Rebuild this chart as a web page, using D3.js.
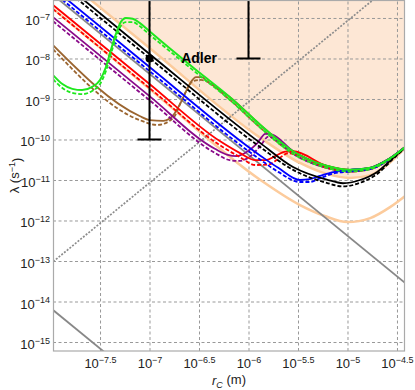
<!DOCTYPE html>
<html>
<head>
<meta charset="utf-8">
<script src="https://cdn.jsdelivr.net/npm/d3@7"></script>
<style>
body { margin: 0; background: #fff; }
svg { display: block; font-family: "Liberation Sans", Arial, sans-serif; }
</style>
</head>
<body>
<script>
// all values are log10 exponents: [log10 rc, log10 lambda]
var xTicks = [-7.5, -7, -6.5, -6, -5.5, -5, -4.5];
var yTicks = [-7, -8, -9, -10, -11, -12, -13, -14, -15];
var xDomain = [-7.975, -4.419];
var yDomain = [-15.222, -6.556];

var greenSolid = [[-7.975,-8.41],[-7.88,-8.63],[-7.78,-8.75],[-7.68,-8.78],[-7.58,-8.70],[-7.50,-8.53],[-7.44,-8.21],[-7.39,-7.79],[-7.34,-7.40],[-7.29,-7.10],[-7.24,-7.00],[-7.17,-7.02],[-7.10,-7.12],[-7.00,-7.33],[-6.86,-7.62],[-6.49,-8.36],[-6.19,-8.95],[-5.88,-9.64],[-5.55,-10.29],[-5.21,-10.65],[-4.975,-10.75],[-4.77,-10.70],[-4.60,-10.51],[-4.42,-10.19]];
var greenDashed = [[-7.975,-8.51],[-7.88,-8.73],[-7.78,-8.85],[-7.68,-8.88],[-7.58,-8.80],[-7.50,-8.63],[-7.44,-8.31],[-7.39,-7.89],[-7.34,-7.50],[-7.29,-7.20],[-7.24,-7.10],[-7.17,-7.10],[-7.10,-7.20],[-7.00,-7.41],[-6.86,-7.69],[-6.49,-8.43],[-6.19,-9.02],[-5.88,-9.71],[-5.55,-10.35],[-5.21,-10.70],[-4.975,-10.79],[-4.77,-10.73],[-4.60,-10.53],[-4.42,-10.19]];

var peachUpper = [[-7.975,-5.79],[-7.0,-7.74],[-5.88,-9.96],[-5.48,-10.58],[-5.21,-10.85],[-4.975,-10.95],[-4.77,-10.88],[-4.60,-10.63],[-4.42,-10.22]];
var peachLower = [[-7.975,-6.77],[-7.0,-8.75],[-5.88,-11.0],[-5.48,-11.62],[-5.23,-11.89],[-5.0,-12.04],[-4.77,-11.94],[-4.57,-11.67],[-4.42,-11.40]];

var blackSolid = [[-7.975,-5.93],[-7.0,-7.89],[-5.88,-10.09],[-5.55,-10.68],[-5.21,-10.99],[-5.045,-11.08],[-4.874,-11.0],[-4.70,-10.80],[-4.54,-10.46],[-4.42,-10.21]];
var blackDashed = [[-7.975,-6.04],[-7.0,-7.99],[-5.88,-10.19],[-5.55,-10.75],[-5.21,-11.07],[-5.045,-11.16],[-4.874,-11.07],[-4.70,-10.85],[-4.54,-10.48],[-4.42,-10.21]];

var blueSolid = [[-7.975,-6.26],[-7.0,-8.21],[-5.88,-10.40],[-5.70,-10.70],[-5.48,-11.0],[-5.38,-10.98],[-5.28,-10.90],[-5.13,-10.80],[-4.975,-10.75],[-4.77,-10.70],[-4.60,-10.51],[-4.42,-10.19]];
var blueDashed = [[-7.975,-6.36],[-7.0,-8.31],[-5.88,-10.50],[-5.70,-10.80],[-5.48,-11.05],[-5.38,-11.05],[-5.28,-10.96],[-5.13,-10.83],[-4.975,-10.79],[-4.77,-10.73],[-4.60,-10.53],[-4.42,-10.19]];

var redSolid = [[-7.975,-6.68],[-7.0,-8.63],[-6.29,-10.04],[-6.09,-10.33],[-5.93,-10.51],[-5.83,-10.51],[-5.73,-10.41],[-5.63,-10.30],[-5.55,-10.29],[-5.21,-10.65],[-4.975,-10.75],[-4.77,-10.70],[-4.60,-10.51],[-4.42,-10.19]];
var redDashed = [[-7.975,-6.78],[-7.0,-8.73],[-6.29,-10.14],[-6.09,-10.43],[-5.93,-10.63],[-5.80,-10.62],[-5.70,-10.48],[-5.60,-10.34],[-5.52,-10.37],[-5.21,-10.70],[-4.975,-10.79],[-4.77,-10.73],[-4.60,-10.53],[-4.42,-10.19]];

var purpleSolid = [[-7.975,-6.98],[-7.0,-8.93],[-6.34,-10.23],[-6.21,-10.38],[-6.12,-10.41],[-6.02,-10.31],[-5.91,-10.09],[-5.83,-9.86],[-5.76,-9.88],[-5.55,-10.29],[-5.21,-10.65],[-4.975,-10.75],[-4.77,-10.70],[-4.60,-10.51],[-4.42,-10.19]];
var purpleDashed = [[-7.975,-7.08],[-7.0,-9.03],[-6.34,-10.33],[-6.19,-10.51],[-6.09,-10.53],[-5.99,-10.43],[-5.88,-10.16],[-5.80,-9.93],[-5.72,-10.02],[-5.55,-10.35],[-5.21,-10.70],[-4.975,-10.79],[-4.77,-10.73],[-4.60,-10.53],[-4.42,-10.19]];

var brownSolid = [[-7.975,-7.67],[-7.10,-9.42],[-7.0,-9.52],[-6.86,-9.54],[-6.76,-9.40],[-6.67,-9.02],[-6.59,-8.61],[-6.53,-8.46],[-6.47,-8.46],[-6.42,-8.56],[-6.19,-8.95],[-5.88,-9.64],[-5.55,-10.29],[-5.21,-10.65],[-4.975,-10.75],[-4.77,-10.70],[-4.60,-10.51],[-4.42,-10.19]];
var brownDashed = [[-7.975,-7.77],[-7.10,-9.52],[-6.92,-9.64],[-6.76,-9.47],[-6.66,-8.95],[-6.56,-8.56],[-6.48,-8.53],[-6.19,-9.02],[-5.88,-9.71],[-5.55,-10.35],[-5.21,-10.70],[-4.975,-10.79],[-4.77,-10.73],[-4.60,-10.53],[-4.42,-10.19]];

var grayUpper = [[-8.0,-6.38],[-4.4,-13.58]];
var grayLower = [[-8.0,-14.16],[-7.3,-15.56]];
var grayDotted = [[-8.0,-13.07],[-4.6,-6.27]];

// Adler error bars: rc, central, low, high
var adlerX = [-7, -6];
var adlerMid = [-8, null];
var adlerLow = [-10, -8];
var adlerHigh = [-6, -6];

var padL = 53, padR = 405, padT = 0, padB = 351;

var svg = d3.select('body').append('svg')
    .attr('width', 415)
    .attr('height', 390);

var x = d3.scaleLog().domain(xDomain.map(function(e){ return Math.pow(10, e); })).range([padL, padR]);
var y = d3.scaleLog().domain(yDomain.map(function(e){ return Math.pow(10, e); })).range([padB, padT]);

function px(d) { return x(Math.pow(10, d[0])); }
function py(d) { return y(Math.pow(10, d[1])); }

svg.append('clipPath').attr('id', 'plot')
    .append('rect').attr('x', padL).attr('y', padT).attr('width', padR - padL).attr('height', padB - padT);

// excluded region
var area = d3.area().x(px).y0(padT).y1(py).curve(d3.curveMonotoneX);
svg.append('path').attr('clip-path', 'url(#plot)').attr('d', area(peachUpper)).attr('fill', '#fde7d5');

// grid
var gx = svg.append('g').attr('transform', 'translate(0,' + padB + ')')
    .call(d3.axisBottom(x).tickValues(xTicks.map(function(e){ return Math.pow(10, e); }))
        .tickSize(-(padB - padT)).tickPadding(6));
var gy = svg.append('g').attr('transform', 'translate(' + padL + ',0)')
    .call(d3.axisLeft(y).tickValues(yTicks.map(function(e){ return Math.pow(10, e); }))
        .tickSize(-(padR - padL)).tickPadding(3));
[gx, gy].forEach(function(g) {
    g.select('.domain').remove();
    g.selectAll('.tick line').attr('stroke', '#999').attr('stroke-dasharray', '3,2.5');
    g.selectAll('.tick text').attr('fill', '#222').attr('font-size', '13px')
        .style('font-family', '"Liberation Sans", Arial, sans-serif');
});
function sup(sel) {
    sel.each(function(d) {
        var e = Math.round(Math.log10(d) * 10) / 10;
        var t = d3.select(this).text(null);
        t.append('tspan').text('10');
        t.append('tspan').attr('dy', '-0.6em').attr('font-size', '9px').text('\u2212' + Math.abs(e));
    });
}
gx.selectAll('.tick text').call(sup).attr('y', 17).attr('dy', null);
gy.selectAll('.tick text').call(sup).attr('dy', '0.5em');

var plot = svg.append('g').attr('clip-path', 'url(#plot)');

// curves
var line = d3.line().x(px).y(py).curve(d3.curveMonotoneX);
function draw(data, color, width, dash) {
    plot.append('path').attr('d', line(data))
        .attr('fill', 'none').attr('stroke', color)
        .attr('stroke-width', width)
        .attr('stroke-dasharray', dash || null);
}
draw(peachLower, '#fccb9c', 2.5);
draw(peachUpper, '#fccb9c', 2.5);
draw(grayUpper, '#888', 1.8);
draw(grayLower, '#888', 1.8);
draw(grayDotted, '#8c8c8c', 1.7, '2,1.5');
draw(brownDashed, '#9b6530', 1.8, '4,2');
draw(brownSolid, '#9b6530', 1.8);
draw(purpleDashed, '#8a0a8a', 1.8, '4,2');
draw(purpleSolid, '#8a0a8a', 1.8);
draw(redDashed, '#ff0000', 1.8, '4,2');
draw(redSolid, '#ff0000', 1.8);
draw(blueDashed, '#0000ff', 1.8, '4,2');
draw(blueSolid, '#0000ff', 1.8);
draw(blackDashed, '#000', 1.8, '4,2');
draw(blackSolid, '#000', 1.8);
draw(greenDashed, '#1ee81e', 1.8, '4,2');
draw(greenSolid, '#1ee81e', 2);

// Adler bars
adlerX.forEach(function(e, i) {
    var cx = x(Math.pow(10, e));
    var y0 = y(Math.pow(10, adlerLow[i])), y1 = y(Math.pow(10, adlerHigh[i]));
    plot.append('line').attr('x1', cx).attr('x2', cx).attr('y1', y0).attr('y2', y1)
        .attr('stroke', '#000').attr('stroke-width', 2);
    plot.append('line').attr('x1', cx - 12).attr('x2', cx + 12).attr('y1', y0).attr('y2', y0)
        .attr('stroke', '#000').attr('stroke-width', 2);
    if (adlerMid[i] !== null) {
        plot.append('circle').attr('cx', cx).attr('cy', y(Math.pow(10, adlerMid[i]))).attr('r', 4).attr('fill', '#000');
    }
});
svg.append('text').attr('x', x(Math.pow(10, -6.68))).attr('y', y(Math.pow(10, -8.12)))
    .attr('font-size', '14px').attr('font-weight', 'bold').text('Adler');

// frame
svg.append('rect').attr('x', padL + 0.5).attr('y', padT + 0.5)
    .attr('width', padR - padL - 1).attr('height', padB - padT - 0.5)
    .attr('fill', 'none').attr('stroke', '#aaa').attr('stroke-width', 1.2);

// titles
var xt = svg.append('text').attr('x', (padL + padR) / 2).attr('y', 385)
    .attr('text-anchor', 'middle').attr('font-size', '13px').attr('fill', '#222');
xt.append('tspan').attr('font-style', 'italic').text('r');
xt.append('tspan').attr('font-style', 'italic').attr('font-size', '9px').attr('dy', '0.3em').text('C');
xt.append('tspan').attr('dy', '-0.3em').text(' (m)');

var yt = svg.append('text').attr('transform', 'translate(19,' + (padT + padB) / 2 + ') rotate(-90)')
    .attr('text-anchor', 'middle').attr('font-size', '13px').attr('fill', '#222');
yt.append('tspan').text('\u03bb (s');
yt.append('tspan').attr('font-size', '9px').attr('dy', '-0.5em').text('\u22121');
yt.append('tspan').attr('dy', '0.5em').text(')');
</script>
</body>
</html>
